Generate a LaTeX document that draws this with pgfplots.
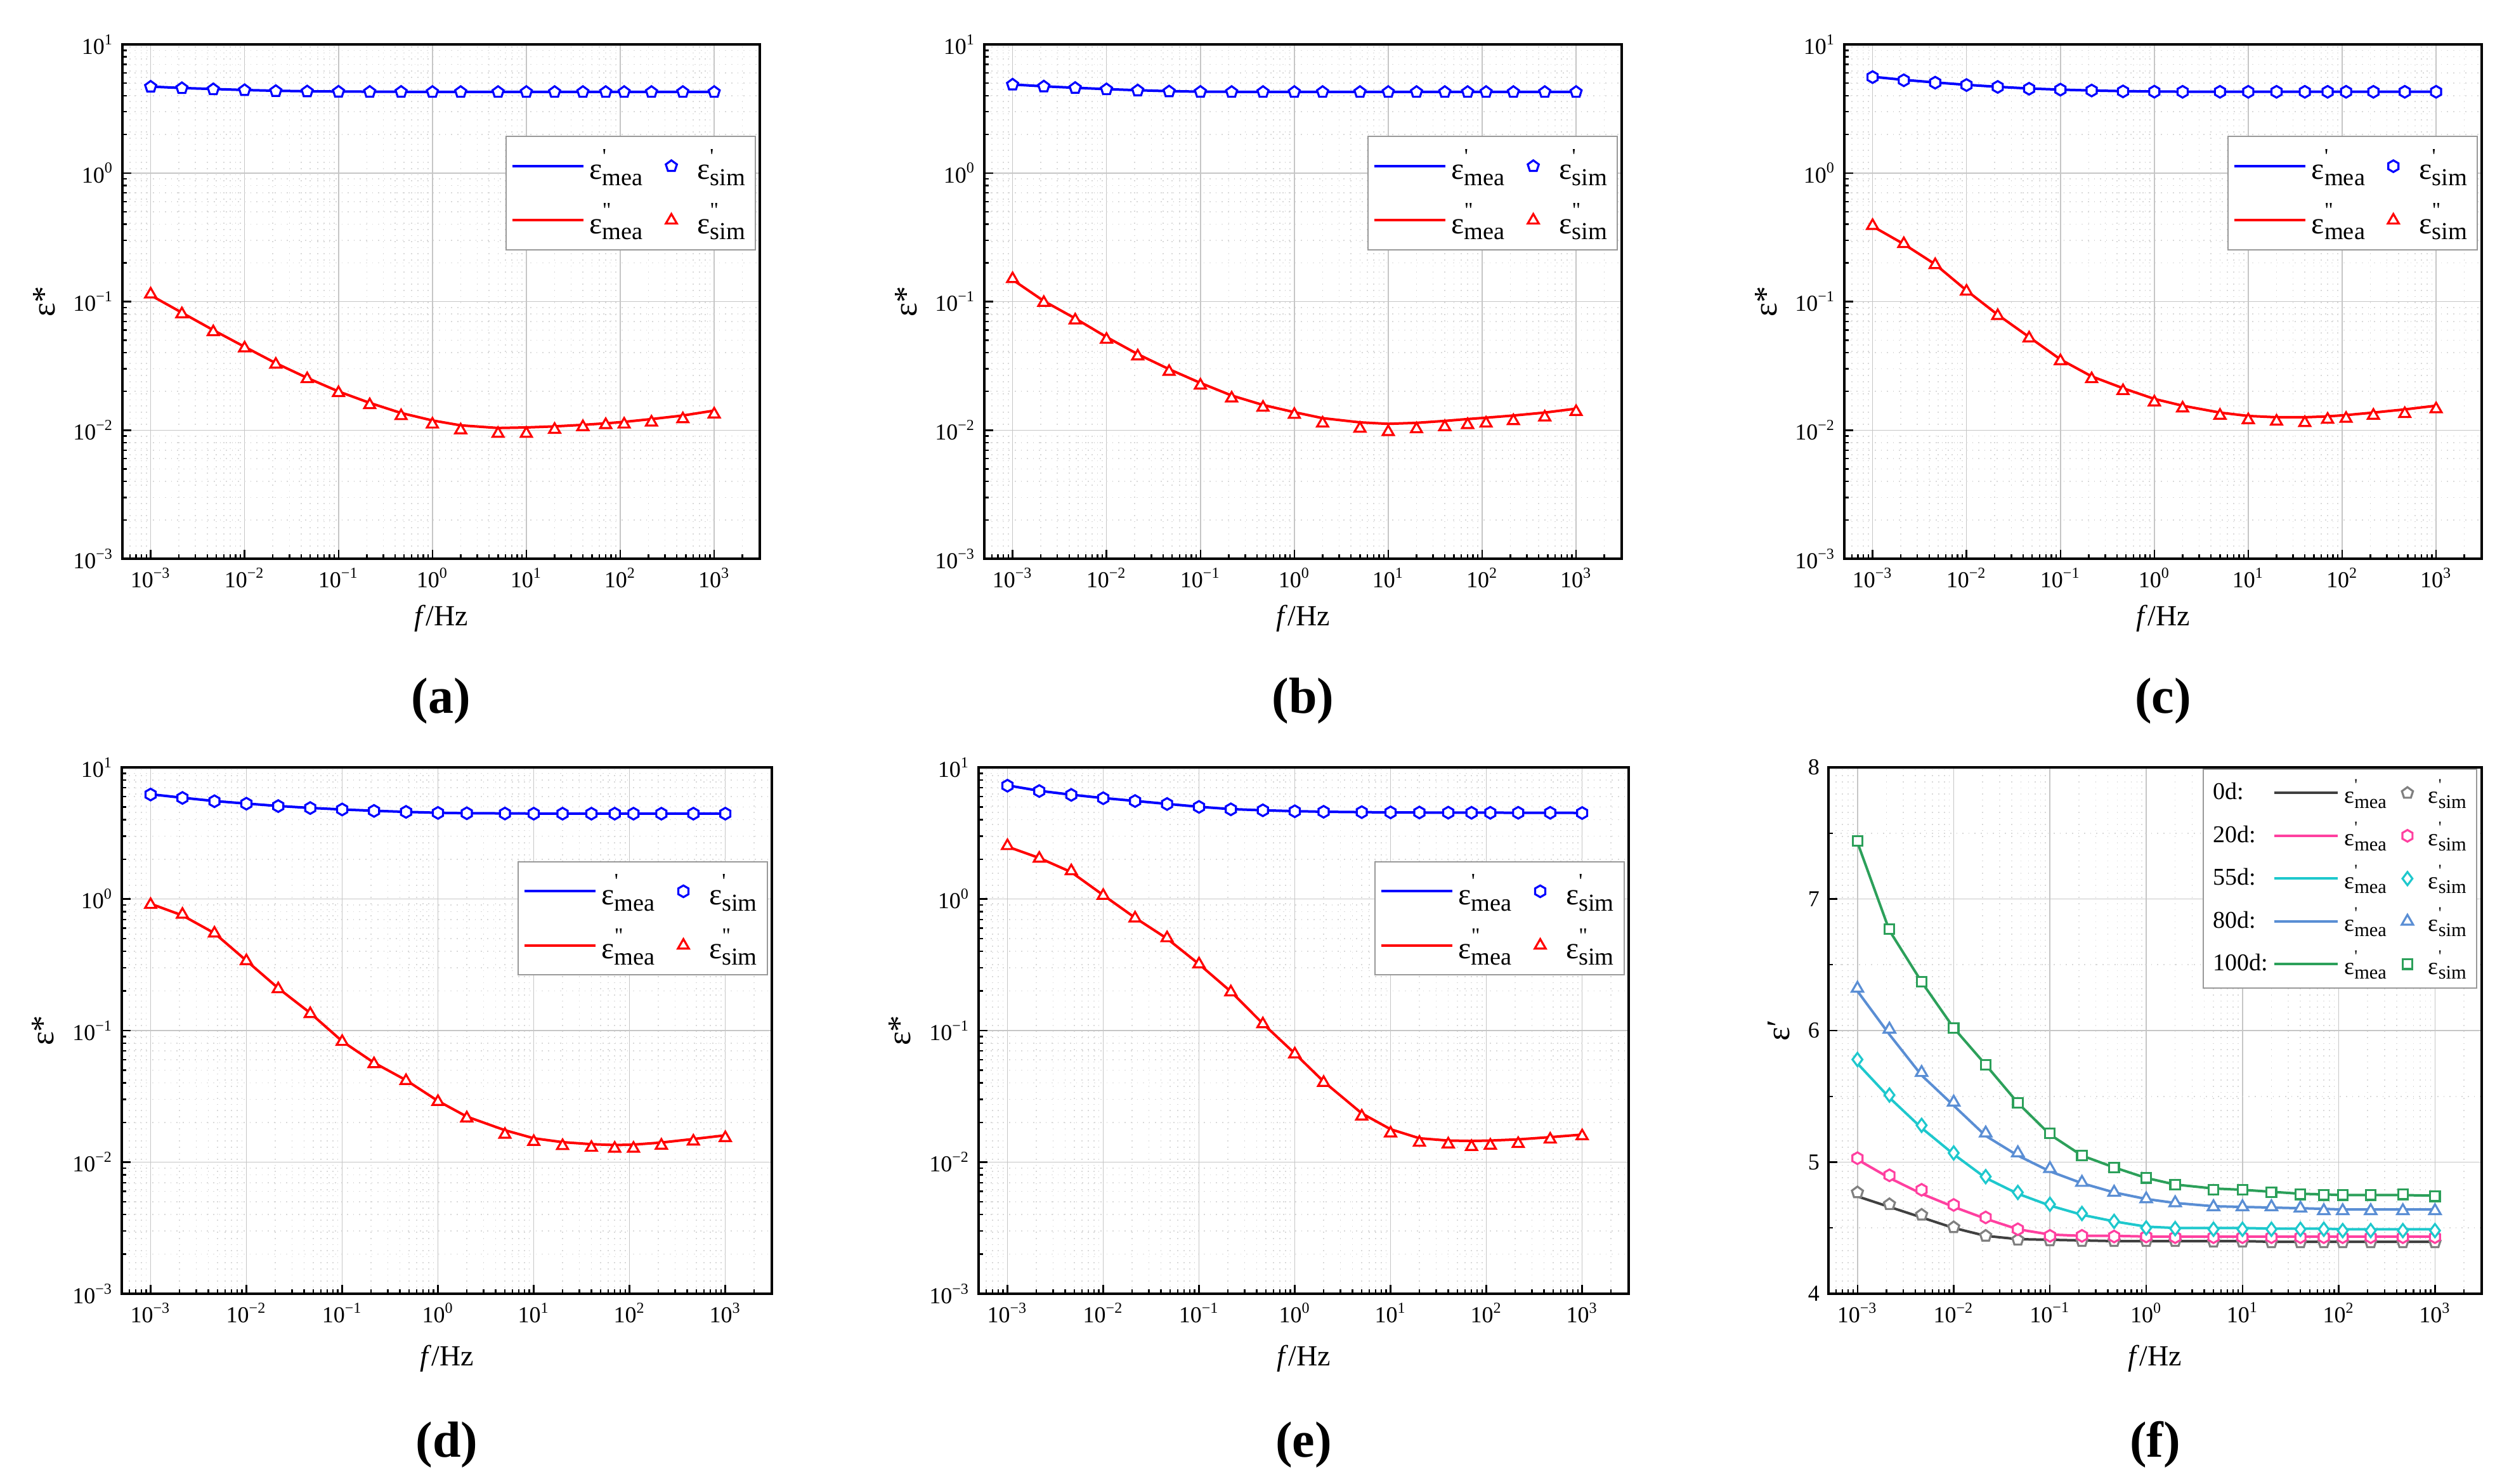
\documentclass[border=0pt]{standalone}
\usepackage{fontspec}
\setmainfont{Liberation Serif}
\usepackage{graphicx}
\usepackage{pgfplots}
\pgfplotsset{compat=1.18}
\usepackage{pgfplotstable}
\usetikzlibrary{plotmarks}

\pgfdeclareplotmark{hexagon}{%
  \pgfpathmoveto{\pgfpointpolar{90}{\pgfplotmarksize}}%
  \pgfpathlineto{\pgfpointpolar{150}{\pgfplotmarksize}}%
  \pgfpathlineto{\pgfpointpolar{210}{\pgfplotmarksize}}%
  \pgfpathlineto{\pgfpointpolar{270}{\pgfplotmarksize}}%
  \pgfpathlineto{\pgfpointpolar{330}{\pgfplotmarksize}}%
  \pgfpathlineto{\pgfpointpolar{30}{\pgfplotmarksize}}%
  \pgfpathclose\pgfusepathqfillstroke}

\definecolor{cblue}{RGB}{0,0,255}
\definecolor{cred}{RGB}{255,0,0}
\definecolor{c0l}{RGB}{64,64,64}
\definecolor{c0m}{RGB}{128,128,128}
\definecolor{c20}{RGB}{255,64,160}
\definecolor{c55}{RGB}{30,200,205}
\definecolor{c80}{RGB}{90,142,212}
\definecolor{c100}{RGB}{44,160,90}

\newcommand{\sq}{\textquotesingle}
\newcommand{\dq}{\textquotedbl}
\newcommand{\ee}[2]{ε\rlap{\raisebox{1.15ex}{\scalebox{0.7}{#1}}}\raisebox{-0.45ex}{\scalebox{0.8}{#2}}}

\pgfplotstableread{
f mp sp mpp spp
0.001   4.70 4.68 0.112  0.114
0.00215 4.58 4.56 0.082  0.080
0.00464 4.50 4.47 0.060  0.058
0.01    4.42 4.40 0.0445 0.0434
0.0215  4.36 4.33 0.0332 0.0324
0.0464  4.32 4.30 0.0255 0.0250
0.1     4.30 4.28 0.0200 0.0195
0.215   4.29 4.27 0.0163 0.0157
0.464   4.28 4.27 0.0136 0.0129
1       4.28 4.26 0.0119 0.0111
2       4.27 4.26 0.0109 0.0100
5       4.27 4.26 0.0104 0.0094
10      4.27 4.26 0.0105 0.0094
20      4.27 4.26 0.0107 0.0101
40      4.27 4.26 0.0110 0.0106
70      4.27 4.26 0.0113 0.0110
110     4.27 4.26 0.0116 0.0111
215     4.27 4.26 0.0122 0.0115
464     4.27 4.26 0.0130 0.0122
1000    4.27 4.26 0.0142 0.0133
}\Ta

\pgfplotstableread{
f mp sp mpp spp
0.001   4.88 4.86 0.148  0.150
0.00215 4.72 4.70 0.101  0.098
0.00464 4.60 4.58 0.074  0.0716
0.01    4.49 4.47 0.053  0.0507
0.0215  4.40 4.38 0.039  0.0376
0.0464  4.33 4.30 0.0298 0.0285
0.1     4.29 4.27 0.0233 0.0223
0.215   4.28 4.26 0.0186 0.0177
0.464   4.27 4.26 0.0157 0.0150
1       4.27 4.26 0.0138 0.0132
2       4.27 4.26 0.0124 0.0113
5       4.27 4.26 0.0115 0.0103
10      4.27 4.26 0.0112 0.0097
20      4.27 4.26 0.0114 0.0102
40      4.27 4.26 0.0118 0.0106
70      4.27 4.26 0.0122 0.0110
110     4.27 4.26 0.0125 0.0113
215     4.27 4.26 0.0130 0.0118
464     4.27 4.26 0.0137 0.0126
1000    4.27 4.26 0.0147 0.0139
}\Tb

\pgfplotstableread{
f mp sp mpp spp
0.001   5.60 5.57 0.385  0.389
0.00215 5.30 5.26 0.280  0.281
0.00464 5.06 5.04 0.195  0.193
0.01    4.85 4.83 0.122  0.120
0.0215  4.68 4.67 0.079  0.0775
0.0464  4.54 4.52 0.053  0.0519
0.1     4.45 4.45 0.0355 0.0345
0.215   4.38 4.38 0.0262 0.0250
0.464   4.33 4.31 0.0212 0.0202
1       4.30 4.29 0.0175 0.0165
2       4.29 4.28 0.0155 0.0148
5       4.29 4.28 0.0137 0.0130
10      4.29 4.28 0.0129 0.0120
20      4.29 4.28 0.0126 0.0117
40      4.29 4.28 0.0126 0.0114
70      4.29 4.28 0.0128 0.0121
110     4.29 4.28 0.0131 0.0123
215     4.29 4.28 0.0137 0.0130
464     4.29 4.28 0.0145 0.0134
1000    4.29 4.28 0.0155 0.0146
}\Tc

\pgfplotstableread{
f mp sp mpp spp
0.001   6.25 6.22 0.920  0.904
0.00215 5.88 5.86 0.750  0.762
0.00464 5.55 5.53 0.550  0.548
0.01    5.31 5.30 0.340  0.338
0.0215  5.09 5.08 0.210  0.207
0.0464  4.92 4.91 0.136  0.134
0.1     4.79 4.79 0.083  0.0823
0.215   4.68 4.67 0.057  0.0557
0.464   4.59 4.59 0.042  0.0415
1       4.52 4.51 0.0292 0.0288
2       4.49 4.48 0.0222 0.0216
5       4.47 4.46 0.0175 0.0162
10      4.46 4.45 0.0152 0.0143
20      4.46 4.45 0.0142 0.0133
40      4.46 4.45 0.0137 0.0129
70      4.46 4.45 0.0135 0.0127
110     4.46 4.45 0.0136 0.0127
215     4.46 4.45 0.0141 0.0134
464     4.46 4.45 0.0150 0.0144
1000    4.46 4.45 0.0160 0.0153
}\Td

\pgfplotstableread{
f mp sp mpp spp
0.001   7.30 7.26 2.50   2.53
0.00215 6.64 6.61 2.05   2.03
0.00464 6.20 6.18 1.60   1.63
0.01    5.85 5.83 1.07   1.06
0.0215  5.56 5.55 0.72   0.714
0.0464  5.28 5.27 0.50   0.505
0.1     5.02 5.01 0.32   0.320
0.215   4.82 4.80 0.198  0.196
0.464   4.72 4.72 0.113  0.112
1       4.65 4.64 0.067  0.0662
2       4.60 4.60 0.041  0.0402
5       4.57 4.57 0.0235 0.0223
10      4.55 4.55 0.0178 0.0166
20      4.54 4.54 0.0152 0.0141
40      4.53 4.53 0.0146 0.0137
70      4.53 4.52 0.0145 0.0131
110     4.53 4.52 0.0146 0.0134
215     4.52 4.52 0.0149 0.0138
464     4.52 4.52 0.0155 0.0149
1000    4.51 4.50 0.0162 0.0158
}\Te

\pgfplotstableread{
f s0 s20 s55 s80 s100 l0 l20 l55 l80 l100
0.001   4.77  5.03  5.78  6.32  7.44  4.74  5.02  5.75  6.30  7.43
0.00215 4.68  4.90  5.51  6.01  6.77  4.66  4.88  5.49  5.97  6.76
0.00464 4.60  4.79  5.28  5.68  6.37  4.58  4.76  5.26  5.66  6.37
0.01    4.505 4.675 5.07  5.455 6.02  4.50  4.66  5.06  5.43  6.02
0.0215  4.44  4.58  4.89  5.22  5.74  4.44  4.57  4.88  5.20  5.74
0.0464  4.41  4.49  4.77  5.07  5.45  4.415 4.49  4.76  5.05  5.45
0.1     4.405 4.44  4.68  4.95  5.22  4.41  4.45  4.67  4.93  5.21
0.215   4.40  4.44  4.61  4.845 5.05  4.405 4.44  4.60  4.84  5.05
0.464   4.40  4.435 4.55  4.77  4.96  4.40  4.44  4.55  4.77  4.96
1       4.40  4.435 4.50  4.72  4.88  4.40  4.435 4.51  4.72  4.88
2       4.40  4.43  4.495 4.69  4.83  4.40  4.435 4.50  4.69  4.83
5       4.395 4.43  4.49  4.66  4.79  4.40  4.435 4.50  4.665 4.80
10      4.395 4.43  4.49  4.66  4.79  4.40  4.435 4.50  4.66  4.79
20      4.39  4.43  4.49  4.66  4.77  4.395 4.435 4.495 4.655 4.775
40      4.39  4.43  4.49  4.65  4.755 4.395 4.435 4.495 4.65  4.76
70      4.39  4.43  4.49  4.63  4.75  4.395 4.435 4.495 4.645 4.755
110     4.39  4.43  4.48  4.63  4.75  4.395 4.435 4.49  4.64  4.75
215     4.39  4.43  4.48  4.63  4.75  4.395 4.435 4.49  4.64  4.75
464     4.39  4.43  4.48  4.63  4.755 4.395 4.435 4.49  4.64  4.75
1000    4.39  4.43  4.48  4.63  4.74  4.395 4.435 4.49  4.64  4.745
}\Tf

\pgfplotsset{
  myaxis/.style={
    scale only axis,
    xmin=5e-4, xmax=3.06e3,
    tick pos=left, tick align=inside,
    axis line style={line width=0.8pt},
    every tick/.style={black, line width=0.6pt},
    major tick length=3.6pt, minor tick length=1.8pt,
    grid=both,
    major grid style={draw=gray!45, line width=0.4pt},
    minor grid style={draw=gray!30, dotted, line width=0.4pt},
    xtick={1e-3,1e-2,1e-1,1,10,100,1000},
    xticklabels={10\textsuperscript{−3},10\textsuperscript{−2},10\textsuperscript{−1},10\textsuperscript{0},10\textsuperscript{1},10\textsuperscript{2},10\textsuperscript{3}},
    minor xtick={6e-4,7e-4,8e-4,9e-4,
      2e-3,3e-3,4e-3,5e-3,6e-3,7e-3,8e-3,9e-3,
      2e-2,3e-2,4e-2,5e-2,6e-2,7e-2,8e-2,9e-2,
      0.2,0.3,0.4,0.5,0.6,0.7,0.8,0.9,
      2,3,4,5,6,7,8,9,
      20,30,40,50,60,70,80,90,
      200,300,400,500,600,700,800,900,
      2000,3000},
    ticklabel style={font=\fontsize{9}{10}\selectfont},
    xlabel={\textit{f}/Hz},
    xlabel style={font=\fontsize{11.5}{13}\selectfont},
    ylabel style={font=\fontsize{13}{15}\selectfont},
    legend cell align=left,
  },
  mylog/.style={
    ymin=1e-3, ymax=10,
    ytick={1e-3,1e-2,1e-1,1,10},
    yticklabels={10\textsuperscript{−3},10\textsuperscript{−2},10\textsuperscript{−1},10\textsuperscript{0},10\textsuperscript{1}},
    minor ytick={2e-3,3e-3,4e-3,5e-3,6e-3,7e-3,8e-3,9e-3,
      2e-2,3e-2,4e-2,5e-2,6e-2,7e-2,8e-2,9e-2,
      0.2,0.3,0.4,0.5,0.6,0.7,0.8,0.9,
      2,3,4,5,6,7,8,9},
    ylabel={ε*},
    legend columns=2,
    legend style={at={(0.994,0.822)}, anchor=north east, draw=gray!80, line width=0.5pt,
      font=\fontsize{12}{14}\selectfont, /tikz/row sep=4pt, inner xsep=2pt, inner ysep=3pt,
      /tikz/column 2/.style={column sep=7pt},
      /tikz/column 3/.style={column sep=6pt}},
  },
  meaL/.style={line width=1pt, mark=none,
    legend image code/.code={\draw[##1] (0pt,0pt) -- (28pt,0pt);}},
  meaS/.style={line width=1pt, mark=none,
    legend image code/.code={\draw[##1] (0pt,0pt) -- (25pt,0pt);}},
  simM/.style={only marks, mark size=2.3pt, mark options={line width=0.8pt, fill=white, solid}},
  xlab1/.style={xlabel style={at={(axis description cs:0.5,0)}, yshift=-23.5pt, anchor=center}},
  xlab2/.style={xlabel style={at={(axis description cs:0.5,0)}, yshift=-25.5pt, anchor=center}},
  ylab1/.style={ylabel style={at={(axis description cs:-0.123,0.5)}, anchor=center}},
  ylab2/.style={ylabel style={at={(axis description cs:-0.121,0.5)}, anchor=center}},
}

\newcommand{\panel}[2]{%
  \addplot[color=cblue, meaL] table[x=f,y=mp]{#1}; \addlegendentry{\ee{\sq}{mea}}
  \addplot[color=cblue, simM, mark=#2] table[x=f,y=sp]{#1}; \addlegendentry{\ee{\sq}{sim}}
  \addplot[color=cred, meaL] table[x=f,y=mpp]{#1}; \addlegendentry{\ee{\dq}{mea}}
  \addplot[color=cred, simM, mark=triangle*, mark size=2.5pt] table[x=f,y=spp]{#1}; \addlegendentry{\ee{\dq}{sim}}
}

\begin{document}
\begin{tikzpicture}
\useasboundingbox (0,0) rectangle (986.25pt,-584.75pt);

\begin{loglogaxis}[myaxis, mylog, xlab1, ylab1, name=a, at={(48.25pt,-17.5pt)}, anchor=north west, width=251.25pt, height=202.75pt]
\panel{\Ta}{pentagon*}
\end{loglogaxis}

\begin{loglogaxis}[myaxis, mylog, xlab1, ylab1, name=b, at={(388pt,-17.5pt)}, anchor=north west, width=251.25pt, height=202.75pt]
\panel{\Tb}{pentagon*}
\end{loglogaxis}

\begin{loglogaxis}[myaxis, mylog, xlab1, ylab1, name=c, at={(727pt,-17.5pt)}, anchor=north west, width=251.25pt, height=202.75pt]
\panel{\Tc}{hexagon}
\end{loglogaxis}

\begin{loglogaxis}[myaxis, mylog, xlab2, ylab2, name=d, at={(48pt,-302.5pt)}, anchor=north west, width=256.25pt, height=207.5pt]
\panel{\Td}{hexagon}
\end{loglogaxis}

\begin{loglogaxis}[myaxis, mylog, xlab2, ylab2, name=e, at={(385.75pt,-302.5pt)}, anchor=north west, width=256.25pt, height=207.5pt]
\panel{\Te}{hexagon}
\end{loglogaxis}

\begin{semilogxaxis}[myaxis, xlab2, name=f, at={(720.75pt,-302.5pt)}, anchor=north west, width=257.5pt, height=207.5pt,
  ymin=4, ymax=8, ytick={4,5,6,7,8}, yticklabels={4,5,6,7,8},
  minor ytick={4.5,5.5,6.5,7.5},
  ylabel={ε′},
  ylabel style={at={(axis description cs:-0.076,0.5)}, anchor=center},
  legend columns=3,
  legend style={at={(0.993,0.998)}, anchor=north east, draw=gray!80, line width=0.5pt,
    font=\fontsize{9.5}{11}\selectfont, /tikz/row sep=2pt, inner xsep=2pt, inner ysep=2pt,
    /tikz/column 2/.style={column sep=0pt},
    /tikz/column 3/.style={column sep=0pt},
    /tikz/column 4/.style={column sep=4pt},
    /tikz/column 5/.style={column sep=4pt}}]
\addlegendimage{empty legend}\addlegendentry{0d:}
\addplot[color=c0l, meaS] table[x=f,y=l0]{\Tf}; \addlegendentry{\ee{\sq}{mea}}
\addplot[color=c0m, simM, mark=pentagon*] table[x=f,y=s0]{\Tf}; \addlegendentry{\ee{\sq}{sim}}
\addlegendimage{empty legend}\addlegendentry{20d:}
\addplot[color=c20, meaS] table[x=f,y=l20]{\Tf}; \addlegendentry{\ee{\sq}{mea}}
\addplot[color=c20, simM, mark=hexagon] table[x=f,y=s20]{\Tf}; \addlegendentry{\ee{\sq}{sim}}
\addlegendimage{empty legend}\addlegendentry{55d:}
\addplot[color=c55, meaS] table[x=f,y=l55]{\Tf}; \addlegendentry{\ee{\sq}{mea}}
\addplot[color=c55, simM, mark=diamond*, mark size=2.6pt] table[x=f,y=s55]{\Tf}; \addlegendentry{\ee{\sq}{sim}}
\addlegendimage{empty legend}\addlegendentry{80d:}
\addplot[color=c80, meaS] table[x=f,y=l80]{\Tf}; \addlegendentry{\ee{\sq}{mea}}
\addplot[color=c80, simM, mark=triangle*, mark size=2.6pt] table[x=f,y=s80]{\Tf}; \addlegendentry{\ee{\sq}{sim}}
\addlegendimage{empty legend}\addlegendentry{100d:}
\addplot[color=c100, meaS] table[x=f,y=l100]{\Tf}; \addlegendentry{\ee{\sq}{mea}}
\addplot[color=c100, simM, mark=square*, mark size=1.9pt] table[x=f,y=s100]{\Tf}; \addlegendentry{\ee{\sq}{sim}}
\end{semilogxaxis}

\node[font=\fontsize{20}{24}\selectfont\bfseries] at ([yshift=-56pt]a.south) {(a)};
\node[font=\fontsize{20}{24}\selectfont\bfseries] at ([yshift=-56pt]b.south) {(b)};
\node[font=\fontsize{20}{24}\selectfont\bfseries] at ([yshift=-56pt]c.south) {(c)};
\node[font=\fontsize{20}{24}\selectfont\bfseries] at ([yshift=-59.5pt]d.south) {(d)};
\node[font=\fontsize{20}{24}\selectfont\bfseries] at ([yshift=-59.5pt]e.south) {(e)};
\node[font=\fontsize{20}{24}\selectfont\bfseries] at ([yshift=-59.5pt]f.south) {(f)};
\end{tikzpicture}
\end{document}
